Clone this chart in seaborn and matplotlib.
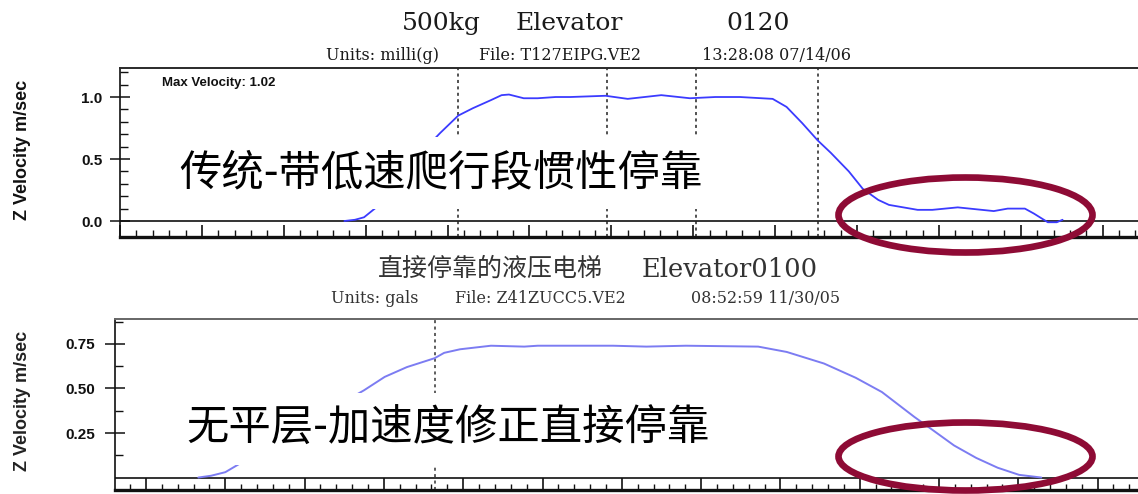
import matplotlib
matplotlib.use("Agg")
import matplotlib.pyplot as plt
import numpy as np
import pandas as pd
import seaborn as sns
from matplotlib.patches import Ellipse
from matplotlib.ticker import MultipleLocator, FixedLocator

# ---- recorded velocity traces (time in s, velocity in m/s) ----
top_time = [2.74, 2.87, 2.98, 3.13, 3.27, 3.42, 3.57, 3.72, 3.91, 4.13, 4.31,
            4.53, 4.66, 4.75, 4.93, 5.10, 5.32, 5.50, 5.93, 6.20, 6.61, 6.96,
            7.27, 7.57, 7.97, 8.14, 8.33, 8.52, 8.68, 8.90, 9.07, 9.26, 9.39,
            9.74, 9.92, 10.23, 10.67, 10.84, 11.05, 11.16, 11.33, 11.44, 11.51]
top_velocity = [0.00, 0.01, 0.03, 0.11, 0.22, 0.34, 0.46, 0.58, 0.71, 0.85, 0.91,
                0.975, 1.015, 1.02, 0.99, 0.99, 1.00, 1.00, 1.01, 0.985, 1.015, 0.99,
                1.00, 1.00, 0.985, 0.92, 0.79, 0.65, 0.55, 0.40, 0.26, 0.17, 0.13,
                0.09, 0.09, 0.11, 0.08, 0.10, 0.10, 0.06, -0.01, -0.01, 0.01]

bottom_time = [0.66, 0.82, 1.00, 1.19, 1.56, 1.94, 2.32, 2.75, 3.01, 3.29, 3.64,
               3.76, 3.96, 4.35, 4.77, 4.94, 5.35, 5.89, 6.31, 6.81, 7.72, 8.08,
               8.55, 8.95, 9.28, 9.69, 9.91, 10.19, 10.47, 10.74, 11.01, 11.29]
bottom_velocity = [0.00, 0.01, 0.03, 0.08, 0.17, 0.27, 0.38, 0.49, 0.565, 0.62, 0.67,
                   0.70, 0.72, 0.74, 0.735, 0.74, 0.74, 0.74, 0.735, 0.74, 0.735, 0.705,
                   0.64, 0.56, 0.48, 0.34, 0.27, 0.18, 0.11, 0.055, 0.015, 0.00]

top_markers = [4.13, 5.95, 7.03, 8.52]
bottom_markers = [3.64]

top_yticks = [0.0, 0.5, 1.0]
top_yticklabels = ["0.0", "0.5", "1.0"]
bottom_yticks = [0.25, 0.50, 0.75]
bottom_yticklabels = ["0.25", "0.50", "0.75"]

top_title = ["500kg", "Elevator", "0120"]
top_info = ["Units: milli(g)", "File: T127EIPG.VE2", "13:28:08 07/14/06"]
bottom_title = ["直接停靠的液压电梯", "Elevator0100"]
bottom_info = ["Units: gals", "File: Z41ZUCC5.VE2", "08:52:59 11/30/05"]
top_note = "传统-带低速爬行段惯性停靠"
bottom_note = "无平层-加速度修正直接停靠"
max_label = "Max Velocity: 1.02"
y_label = "Z Velocity m/sec"

# ---- figure setup ----
W, H, DPI = 1138, 494, 100
sns.set_theme(style="white")
plt.rcParams["font.family"] = ["Liberation Sans", "Noto Sans CJK SC", "DejaVu Sans"]

fig = plt.figure(figsize=(W / DPI, H / DPI), dpi=DPI)
fig.patch.set_facecolor("white")


def px_axes(left, top, right, bottom):
    return fig.add_axes([left / W, 1 - bottom / H, (right - left) / W, (bottom - top) / H])


def fig_text(x, y, s, **kw):
    return fig.text(x / W, 1 - y / H, s, **kw)


def style_axes(ax, xlim, ylim, yticks, yticklabels, yminor, top_color, xmaj_len, xmin_len):
    ax.set_xlim(*xlim)
    ax.set_ylim(*ylim)
    ax.set_facecolor("white")
    ax.set_xlabel("")
    ax.set_ylabel("")
    ax.xaxis.set_major_locator(MultipleLocator(1.0))
    ax.xaxis.set_minor_locator(MultipleLocator(0.2))
    ax.yaxis.set_major_locator(FixedLocator(yticks))
    ax.yaxis.set_minor_locator(FixedLocator(yminor))
    ax.set_yticklabels(yticklabels, fontweight="bold", fontsize=11,
                       family="Liberation Sans", color="#111111")
    ax.tick_params(axis="x", which="major", direction="in", length=xmaj_len, width=1.2,
                   color="#111111", labelbottom=False, bottom=True, top=False)
    ax.tick_params(axis="x", which="minor", direction="in", length=xmin_len, width=1.0,
                   color="#111111", bottom=True, top=False)
    ax.tick_params(axis="y", which="major", direction="inout", length=14.5, width=1.1,
                   color="#111111", left=True, right=False, pad=5.5)
    ax.tick_params(axis="y", which="minor", direction="in", length=5.8, width=1.0,
                   color="#111111", left=True, right=False)
    ax.spines["left"].set_color("#111111")
    ax.spines["left"].set_linewidth(1.2)
    ax.spines["bottom"].set_color("#111111")
    ax.spines["bottom"].set_linewidth(2.4)
    ax.spines["top"].set_color(top_color)
    ax.spines["top"].set_linewidth(1.4)
    ax.spines["right"].set_visible(False)
    ax.axhline(0, color="#111111", lw=1.2, zorder=1)


# ---- upper chart ----
ax1 = px_axes(120, 68, 1160, 237)
df_top = pd.DataFrame({"time": top_time, "velocity": top_velocity})
sns.lineplot(data=df_top, x="time", y="velocity", ax=ax1, color="#3b3bff",
             linewidth=1.3, estimator=None, sort=False, zorder=3)
for t in top_markers:
    ax1.axvline(t, color="#222222", lw=1.1, ls=(0, (2, 2.2)), zorder=2)
style_axes(ax1, (0, 12.70), (-0.129, 1.234), top_yticks, top_yticklabels,
           np.arange(0.1, 1.25, 0.1), "#2a2a2a", 9.0, 5.0)
ax1.text(0.04, 0.91, max_label, transform=ax1.transAxes, fontsize=9.5,
         fontweight="bold", family="Liberation Sans", color="#111111",
         ha="left", va="center")

# ---- lower chart ----
ax2 = px_axes(115, 319, 1160, 490)
df_bot = pd.DataFrame({"time": bottom_time, "velocity": bottom_velocity})
sns.lineplot(data=df_bot, x="time", y="velocity", ax=ax2, color="#7c7cf2",
             linewidth=1.4, estimator=None, sort=False, zorder=3)
for t in bottom_markers:
    ax2.axvline(t, color="#333333", lw=1.1, ls=(0, (2, 2.2)), zorder=2)
style_axes(ax2, (-0.391, 12.787), (-0.070, 0.890), bottom_yticks, bottom_yticklabels,
           [0.125, 0.375, 0.625, 0.875], "#666666", 8.5, 4.0)
ax2.tick_params(axis="y", which="major", pad=7)

# ---- titles ----
serif = "DejaVu Serif"
for s, x in zip(top_title, [441, 569, 758]):
    fig_text(x, 30, s, family=serif, fontsize=18, ha="center", va="baseline", color="#1a1a1a")
for s, x in zip(top_info, [383, 560, 777]):
    fig_text(x, 60, s, family=serif, fontsize=11.5, ha="center", va="baseline", color="#1a1a1a")

fig_text(490, 268.5, bottom_title[0], family="Noto Sans CJK SC", fontsize=18,
         ha="center", va="center", color="#333333")
fig_text(730, 277, bottom_title[1], family=serif, fontsize=18.5, ha="center",
         va="baseline", color="#333333")
for s, x in zip(bottom_info, [375, 540, 766]):
    fig_text(x, 303, s, family=serif, fontsize=11.5, ha="center", va="baseline", color="#333333")

# ---- y-axis labels ----
fig_text(23, 150, y_label, rotation=90, ha="center", va="center", fontsize=13,
         fontweight="bold", family="Liberation Sans", color="#111111")
fig_text(23, 401, y_label, rotation=90, ha="center", va="center", fontsize=13,
         fontweight="bold", family="Liberation Sans", color="#222222")

# ---- annotations ----
note_kw = dict(family=["Noto Sans CJK SC", "DejaVu Sans"], fontsize=30.5, ha="center",
               va="center", color="black", zorder=6,
               bbox=dict(facecolor="white", edgecolor="none", pad=10))
fig_text(441, 173, top_note, **note_kw)
fig_text(448, 429, bottom_note, **note_kw)

maroon = "#8e0b35"
for cy, h in [(215, 75), (456.5, 68)]:
    e = Ellipse((965.5 / DPI, (H - cy) / DPI), 254 / DPI, h / DPI, fill=False,
                edgecolor=maroon, linewidth=4.8, transform=fig.dpi_scale_trans, zorder=8)
    fig.add_artist(e)

fig.savefig("out.png", dpi=DPI, facecolor="white")
